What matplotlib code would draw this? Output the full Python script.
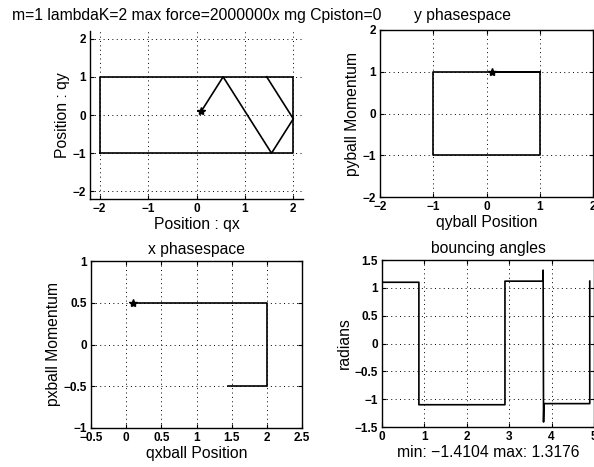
import matplotlib
matplotlib.use("Agg")
import matplotlib.pyplot as plt

plt.rcParams['font.family'] = ['Liberation Sans', 'DejaVu Sans']

W, H = 594, 467
fig = plt.figure(figsize=(W / 100, H / 100), dpi=100)

# ---------------- data ----------------
# billiard walls
wall_x = [-2, 2, 2, -2, -2]
wall_y = [-1, -1, 1, 1, -1]
# ball trajectory (qx, qy)
traj_qx = [0.1, 0.55, 1.55, 2.0, 1.45]
traj_qy = [0.1, 1.0, -1.0, -0.1, 1.0]
# y phase space
yps_q = [0.1, 1, 1, -1, -1, 1]
yps_p = [1, 1, -1, -1, 1, 1]
# x phase space
xps_q = [0.1, 2.0, 2.0, 1.45]
xps_p = [0.5, 0.5, -0.5, -0.5]
# bouncing angles
ang_t = [0, 0.87, 0.87, 2.90, 2.90, 3.80, 3.80, 3.81, 3.82, 4.90, 4.90]
ang_v = [1.10, 1.10, -1.10, -1.10, 1.12, 1.12, 1.3176, -1.4104, -1.08, -1.08, 1.12]

main_title = "m=1 lambdaK=2 max force=2000000x mg Cpiston=0"

LW = 1.2
GRID = dict(color='black', linestyle=(0, (1, 3.5)), linewidth=0.7)
TICKFS = 8.5
LABFS = 11.3


def px_axes(l, t, r, b):
    return fig.add_axes([l / W, 1 - b / H, (r - l) / W, (b - t) / H])


def style(ax, xticks, yticks, xtl=None, ytl=None):
    ax.set_xticks(xticks)
    ax.set_yticks(yticks)
    if xtl is not None:
        ax.set_xticklabels(xtl)
    if ytl is not None:
        ax.set_yticklabels(ytl)
    ax.tick_params(direction='in', length=3, width=0.8, pad=3,
                   top=True, right=True)
    for lab in ax.get_xticklabels() + ax.get_yticklabels():
        lab.set_fontsize(TICKFS)
        lab.set_fontweight('bold')
    ax.grid(True, **GRID)
    for s in ax.spines.values():
        s.set_linewidth(1.0)
        s.set_color('black')


# ---- top-left: trajectory ----
ax1 = px_axes(90, 31, 303, 199)
ax1.plot(wall_x, wall_y, color='black', lw=LW)
ax1.plot(traj_qx, traj_qy, color='black', lw=LW)
ax1.plot(traj_qx[0], traj_qy[0], marker='*', color='black', ms=6)
ax1.set_xlim(-2.2, 2.2)
ax1.set_ylim(-2.2, 2.2)
style(ax1, [-2, -1, 0, 1, 2], [-2, -1, 0, 1, 2])
ax1.tick_params(top=False, right=False)
ax1.spines['top'].set_visible(False)
ax1.spines['right'].set_visible(False)
ax1.set_xlabel("Position : qx", fontsize=LABFS, labelpad=1)
ax1.set_ylabel("Position : qy", fontsize=LABFS, labelpad=2)
ax1.set_title(main_title, fontsize=LABFS, pad=8)

# ---- top-right: y phase space ----
ax2 = px_axes(380, 30, 593, 197)
ax2.plot(yps_q, yps_p, color='black', lw=LW)
ax2.plot(yps_q[0], yps_p[0], marker='*', color='black', ms=6)
ax2.set_xlim(-2, 2)
ax2.set_ylim(-2, 2)
style(ax2, [-2, -1, 0, 1, 2], [-2, -1, 0, 1, 2])
ax2.set_xlabel("qyball Position", fontsize=LABFS, labelpad=1)
ax2.set_ylabel("pyball Momentum", fontsize=LABFS, labelpad=2)
ax2.set_title("y phasespace", fontsize=LABFS, pad=7, x=0.385)

# ---- bottom-left: x phase space ----
ax3 = px_axes(91, 261, 302, 428)
ax3.plot(xps_q, xps_p, color='black', lw=LW)
ax3.plot(xps_q[0], xps_p[0], marker='*', color='black', ms=6)
ax3.set_xlim(-0.5, 2.5)
ax3.set_ylim(-1, 1)
style(ax3, [-0.5, 0, 0.5, 1, 1.5, 2, 2.5], [-1, -0.5, 0, 0.5, 1],
      ['\u22120.5', '0', '0.5', '1', '1.5', '2', '2.5'],
      ['\u22121', '\u22120.5', '0', '0.5', '1'])
ax3.set_xlabel("qxball Position", fontsize=LABFS, labelpad=1)
ax3.set_ylabel("pxball Momentum", fontsize=LABFS, labelpad=2)
ax3.set_title("x phasespace", fontsize=LABFS, pad=5)

# ---- bottom-right: bouncing angles ----
ax4 = px_axes(382, 260, 594, 427)
ax4.plot(ang_t, ang_v, color='black', lw=LW)
ax4.set_xlim(0, 5)
ax4.set_ylim(-1.5, 1.5)
style(ax4, [0, 1, 2, 3, 4, 5], [-1.5, -1, -0.5, 0, 0.5, 1, 1.5],
      ['0', '1', '2', '3', '4', '5'],
      ['\u22121.5', '\u22121', '\u22120.5', '0', '0.5', '1', '1.5'])
ax4.set_xlabel("min: \u22121.4104 max: 1.3176", fontsize=LABFS, labelpad=1)
ax4.set_ylabel("radians", fontsize=LABFS, labelpad=2)
ax4.set_title("bouncing angles", fontsize=LABFS, pad=5)

fig.savefig("out.png", dpi=100)
